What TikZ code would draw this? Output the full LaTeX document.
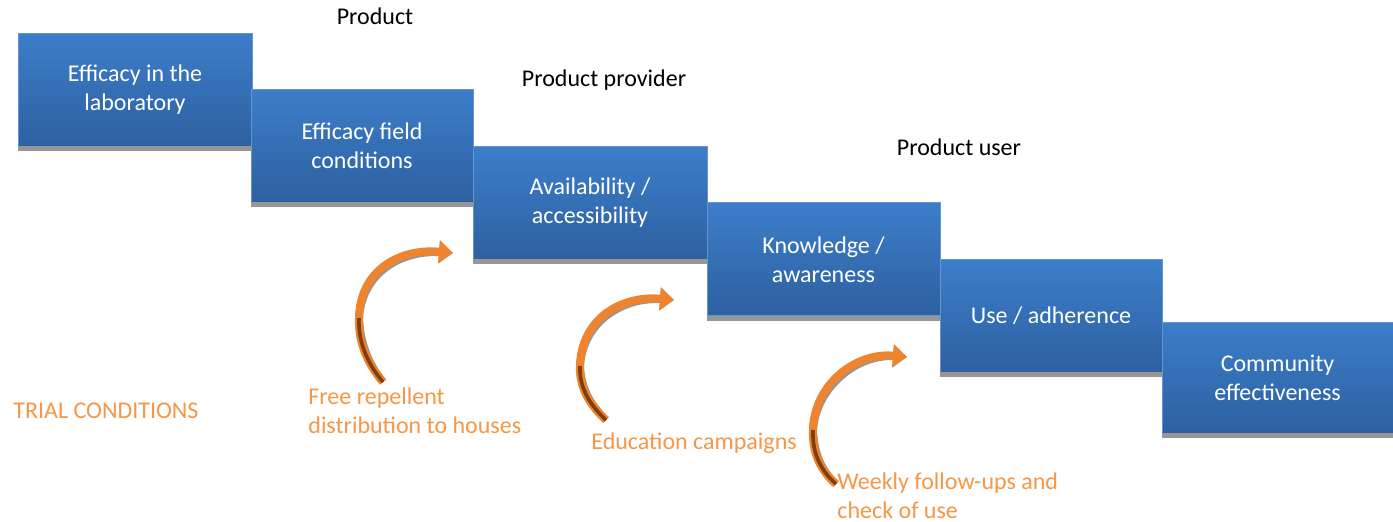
\documentclass[tikz,border=0pt]{standalone}
\usepackage{fontspec}
\setmainfont{Carlito}
\usetikzlibrary{arrows.meta}
\definecolor{boxtop}{RGB}{60,126,202}
\definecolor{boxbot}{RGB}{45,96,160}
\definecolor{boxline}{RGB}{100,148,210}
\definecolor{trialorange}{RGB}{247,150,70}
\definecolor{arroworange}{RGB}{238,132,46}
\definecolor{arrowbrown}{RGB}{128,62,12}
\definecolor{shadowgray}{RGB}{150,150,150}

\begin{document}
\begin{tikzpicture}[x=0.5pt,y=-0.5pt,
  box/.style={draw=boxline,line width=0.5pt,top color=boxtop,bottom color=boxbot,
              minimum height=56.5pt,text=white,align=center,
              font=\fontsize{12}{14.5}\selectfont,inner sep=0pt,outer sep=0pt},
  head/.style={font=\fontsize{12}{14.5}\selectfont,inner sep=0pt},
  note/.style={text=trialorange,align=left,anchor=west,
               font=\fontsize{12}{14.5}\selectfont,inner sep=0pt},
  curl/.style={line width=4pt,arroworange,-{Triangle[length=7pt,width=11pt]}},
  curlshadow/.style={line width=4pt,shadowgray,xshift=1pt,yshift=-1pt,
                     -{Triangle[length=7pt,width=11pt]}},
  curlinner/.style={line width=1.8pt,arrowbrown}
]
  \useasboundingbox (0,0) rectangle (1393,522);

  % steps
  \node[box,minimum width=117pt] (lab) at (135,90) {Efficacy in the\\laboratory};
  \node[box,minimum width=111pt] (field) at (362,146) {Efficacy field\\conditions};
  \node[box,minimum width=117pt] (avail) at (590,203) {Availability /\\accessibility};
  \node[box,minimum width=116.5pt] (know) at (823.5,259.5) {Knowledge /\\awareness};
  \node[box,minimum width=111pt] (use) at (1051,316) {Use / adherence};
  \node[box,minimum width=115.5pt,minimum height=55.5pt] (comm) at (1277.5,378) {Community\\effectiveness};
  \foreach \b in {lab,field,avail,know,use,comm}
    \fill[shadowgray] (\b.south west) rectangle ([yshift=-2.5pt]\b.south east);

  % levels
  \node[head] (prod) at (375,16) {Product};
  \node[head] (prov) at (604,80) {Product provider};
  \node[head] (user) at (959,147) {Product user};

  % trial conditions
  \node[note] (trial) at (13,411) {TRIAL CONDITIONS};
  \node[note] (free) at (308,411) {Free repellent\\distribution to houses};
  \node[note] (edu) at (591,443) {Education campaigns};
  \node[note] (week) at (837,496) {Weekly follow-ups and\\check of use};

  \coordinate (t1) at (383,382); \coordinate (m1) at (359,318); \coordinate (h1) at (453,253);
  \coordinate (t2) at (606,420); \coordinate (m2) at (580,366); \coordinate (h2) at (674,300);
  \coordinate (t3) at (836,484); \coordinate (m3) at (813,430); \coordinate (h3) at (907,357);

  \draw[curlshadow] (t1) .. controls (366,362) and (358,340) .. (m1)
                         .. controls (360,270) and (400,248) .. (h1);
  \draw[curl] (t1) .. controls (366,362) and (358,340) .. (m1)
                   .. controls (360,270) and (400,248) .. (h1);
  \draw[curlinner] (t1) .. controls (366,362) and (358,340) .. (m1);

  \draw[curlshadow] (t2) .. controls (590,405) and (579,388) .. (m2)
                         .. controls (581,320) and (620,295) .. (h2);
  \draw[curl] (t2) .. controls (590,405) and (579,388) .. (m2)
                   .. controls (581,320) and (620,295) .. (h2);
  \draw[curlinner] (t2) .. controls (590,405) and (579,388) .. (m2);

  \draw[curlshadow] (t3) .. controls (820,470) and (812,452) .. (m3)
                         .. controls (814,385) and (855,352) .. (h3);
  \draw[curl] (t3) .. controls (820,470) and (812,452) .. (m3)
                   .. controls (814,385) and (855,352) .. (h3);
  \draw[curlinner] (t3) .. controls (820,470) and (812,452) .. (m3);
\end{tikzpicture}
\end{document}
